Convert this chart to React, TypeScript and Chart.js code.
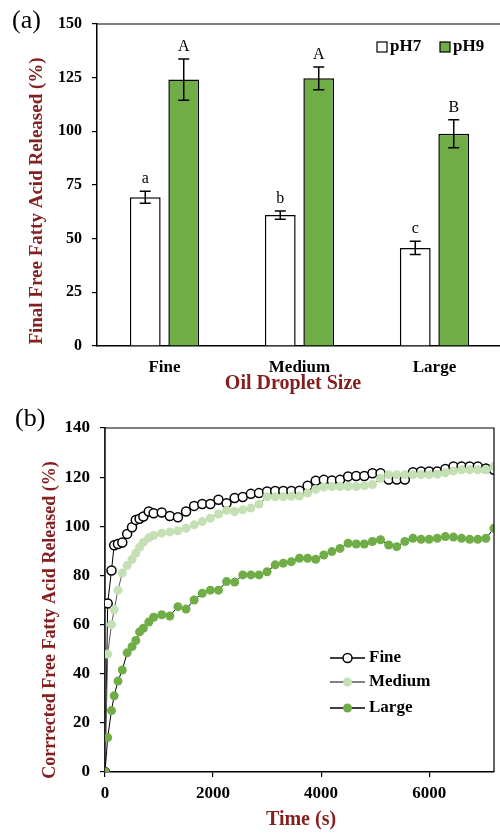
import React, { useEffect, useRef } from 'react';
import { Chart, registerables } from 'chart.js';

Chart.register(...registerables);

// ---------- Panel (a) data ----------
const sizeCategories = ['Fine', 'Medium', 'Large'];
const ph7Values = [69.3, 61.0, 45.7];
const ph7Errors = [2.8, 1.9, 3.1];
const ph9Values = [124.1, 124.7, 98.9];
const ph9Errors = [9.6, 5.3, 6.5];
const ph7Letters = ['a', 'b', 'c'];
const ph9Letters = ['A', 'A', 'B'];
const barTicks = [0, 25, 50, 75, 100, 125, 150];

// ---------- Panel (b) data ----------
const timeSeconds = [
  0, 50, 120, 170, 240, 320, 410, 500, 570, 640, 710, 810, 900,
  1050, 1200, 1350, 1500, 1650, 1800, 1950, 2100, 2250, 2400,
  2550, 2700, 2850, 3000, 3150, 3300, 3450, 3600, 3750, 3900,
  4050, 4200, 4350, 4500, 4650, 4800, 4950, 5100, 5250, 5400,
  5550, 5700, 5850, 6000, 6150, 6300, 6450, 6600, 6750, 6900,
  7050, 7200,
];
const fineValues = [
  0, 68.6, 82, 92.3, 92.8, 93.4, 96.9, 99.6, 102.6, 103.1, 104, 106, 105.3,
  105.6, 104.2, 103.7, 106, 108.3, 109.1, 109.1, 110.8, 109.4, 111.5,
  111.9, 113.2, 113.5, 114.2, 114.4, 114.4, 114.4, 114.5, 116.5, 118.5,
  118.9, 118.6, 118.9, 120.3, 120.5, 120.5, 121.6, 121.6, 119, 119,
  119, 122, 122.3, 122.3, 122.3, 123.3, 124.3, 124.3, 124.3, 124.3,
  123.5, 123,
];
const mediumValues = [
  0, 48, 60, 66, 74, 81, 84, 86.5, 89, 91.5, 93.5, 95.3, 96.3,
  97.2, 97.7, 98.2, 99.2, 100.6, 101.9, 103.3, 105, 106.5, 106,
  106.7, 107.4, 109, 112, 112, 112, 112.2, 112.3, 113.5, 115,
  116, 116.2, 116.2, 116.2, 116.2, 116.5, 117, 119.5, 121, 121,
  121, 121, 121, 121, 121.2, 121.8, 122.5, 123, 123, 123,
  123, 124.3,
];
const largeValues = [
  0, 14, 25, 31, 37, 41.5, 48.5, 51, 53.5, 57, 58.5, 61, 63,
  64, 63.5, 67.3, 66.3, 70, 72.7, 74, 74, 77.5, 77.3,
  80.2, 80.2, 80.2, 81.5, 84.3, 85, 85.6, 87, 87, 86.6,
  88.3, 89.7, 91, 93.1, 92.8, 92.8, 93.8, 94.5, 92.4, 91.7,
  93.8, 95.1, 94.7, 94.7, 95.1, 95.8, 95.6, 95.1, 94.7, 94.7,
  95.1, 99.2,
];
const timeTicks = [0, 2000, 4000, 6000];
const releaseTicks = [0, 20, 40, 60, 80, 100, 120, 140];

const SERIF = "'Liberation Serif', 'Times New Roman', serif";
const TITLE_RED = '#842020';
const GREEN = '#70AD47';
const LIGHT_GREEN = '#C5E0B4';

function drawRotatedTitle(ctx: CanvasRenderingContext2D, text: string, x: number, y: number, font: string) {
  ctx.save();
  ctx.translate(x, y);
  ctx.rotate(-Math.PI / 2);
  ctx.font = font;
  ctx.fillStyle = TITLE_RED;
  ctx.textAlign = 'center';
  ctx.textBaseline = 'middle';
  ctx.fillText(text, 0, 0);
  ctx.restore();
}

export default function App() {
  const refA = useRef<HTMLCanvasElement | null>(null);
  const refB = useRef<HTMLCanvasElement | null>(null);

  useEffect(() => {
    if (!refA.current || !refB.current) return;

    const barDecor = {
      id: 'barDecor',
      afterDraw(chart: any) {
        const ctx = chart.ctx as CanvasRenderingContext2D;
        const ca = chart.chartArea;
        const ys = chart.scales.y;
        ctx.save();
        ctx.strokeStyle = '#000';
        ctx.lineWidth = 1.2;
        ctx.beginPath();
        ctx.moveTo(ca.left, ca.top);
        ctx.lineTo(ca.right, ca.top);
        ctx.lineTo(ca.right, ca.bottom);
        ctx.stroke();

        const groups: [number, number[], number[], string[]][] = [
          [0, ph7Values, ph7Errors, ph7Letters],
          [1, ph9Values, ph9Errors, ph9Letters],
        ];
        groups.forEach(([di, vals, errs, letters]) => {
          const meta = chart.getDatasetMeta(di);
          meta.data.forEach((bar: any, i: number) => {
            const x = bar.x;
            const top = ys.getPixelForValue(vals[i] + errs[i]);
            const bot = ys.getPixelForValue(vals[i] - errs[i]);
            ctx.strokeStyle = '#000';
            ctx.lineWidth = 1.5;
            ctx.beginPath();
            ctx.moveTo(x, top);
            ctx.lineTo(x, bot);
            ctx.moveTo(x - 5.5, top);
            ctx.lineTo(x + 5.5, top);
            ctx.moveTo(x - 5.5, bot);
            ctx.lineTo(x + 5.5, bot);
            ctx.stroke();
            ctx.fillStyle = '#000';
            ctx.font = `16px ${SERIF}`;
            ctx.textAlign = 'center';
            ctx.textBaseline = 'alphabetic';
            ctx.fillText(letters[i], x, top - 8);
          });
        });

        const ds = chart.data.datasets;
        const legendItems = [
          { x: 377, tx: 390 },
          { x: 440, tx: 453 },
        ];
        legendItems.forEach((it, i) => {
          ctx.fillStyle = ds[i].backgroundColor;
          ctx.strokeStyle = '#000';
          ctx.lineWidth = 1.2;
          ctx.fillRect(it.x, 42, 10, 10);
          ctx.strokeRect(it.x, 42, 10, 10);
          ctx.fillStyle = '#000';
          ctx.font = `bold 17px ${SERIF}`;
          ctx.textAlign = 'left';
          ctx.textBaseline = 'middle';
          ctx.fillText(ds[i].label, it.tx, 47);
        });

        drawRotatedTitle(ctx, 'Final Free Fatty Acid Released (%)', 37, 201, `bold 19px ${SERIF}`);
        ctx.font = `bold 20px ${SERIF}`;
        ctx.fillStyle = TITLE_RED;
        ctx.textAlign = 'center';
        ctx.textBaseline = 'middle';
        ctx.fillText('Oil Droplet Size', 293, 384);

        ctx.font = `26px ${SERIF}`;
        ctx.fillStyle = '#000';
        ctx.textAlign = 'left';
        ctx.fillText('(a)', 12, 21);
        ctx.restore();
      },
    };

    const chartA = new Chart(refA.current, {
      type: 'bar',
      data: {
        labels: sizeCategories,
        datasets: [
          {
            label: 'pH7',
            data: ph7Values,
            backgroundColor: '#FFFFFF',
            borderColor: '#000',
            borderWidth: 1.5,
            categoryPercentage: 0.57,
            barPercentage: 0.8,
          },
          {
            label: 'pH9',
            data: ph9Values,
            backgroundColor: GREEN,
            borderColor: '#000',
            borderWidth: 1.5,
            categoryPercentage: 0.57,
            barPercentage: 0.8,
          },
        ],
      },
      options: {
        responsive: false,
        animation: false,
        layout: { padding: { top: 24, right: 3, left: 0, bottom: 0 } },
        plugins: { legend: { display: false }, tooltip: { enabled: false } },
        scales: {
          x: {
            grid: { display: false, drawTicks: false },
            border: { display: true, color: '#000', width: 1.5 },
            ticks: { color: '#000', font: { family: SERIF, size: 17, weight: 'bold' }, padding: 11 },
            afterFit: (s: any) => { s.height = 54; },
          },
          y: {
            min: 0,
            max: 150,
            afterBuildTicks: (s: any) => { s.ticks = barTicks.map((v) => ({ value: v })); },
            grid: { display: true, drawOnChartArea: false, drawTicks: true, tickLength: 5, color: '#000', lineWidth: 1.2 },
            border: { display: true, color: '#000', width: 1.5 },
            ticks: { color: '#000', font: { family: SERIF, size: 16, weight: 'bold' }, padding: 10 },
            afterFit: (s: any) => { s.width = 97; },
          },
        },
      },
      plugins: [barDecor],
    } as any);

    const lineDecor = {
      id: 'lineDecor',
      afterDraw(chart: any) {
        const ctx = chart.ctx as CanvasRenderingContext2D;
        const ca = chart.chartArea;
        ctx.save();
        ctx.strokeStyle = '#000';
        ctx.lineWidth = 1.2;
        ctx.beginPath();
        ctx.moveTo(ca.left, ca.top);
        ctx.lineTo(ca.right, ca.top);
        ctx.lineTo(ca.right, ca.bottom);
        ctx.stroke();

        const ds = chart.data.datasets;
        const rowsY = [268, 292, 318];
        ds.forEach((d: any, i: number) => {
          const y = rowsY[i];
          ctx.strokeStyle = d.borderColor;
          ctx.lineWidth = 1.5;
          ctx.beginPath();
          ctx.moveTo(330, y);
          ctx.lineTo(365, y);
          ctx.stroke();
          ctx.beginPath();
          ctx.arc(347.5, y, 4.5, 0, Math.PI * 2);
          ctx.fillStyle = d.pointBackgroundColor;
          ctx.fill();
          if (d.pointBorderWidth > 0) {
            ctx.strokeStyle = d.pointBorderColor;
            ctx.lineWidth = d.pointBorderWidth;
            ctx.stroke();
          }
          ctx.fillStyle = '#000';
          ctx.font = `bold 17px ${SERIF}`;
          ctx.textAlign = 'left';
          ctx.textBaseline = 'middle';
          ctx.fillText(d.label, 369, y);
        });

        drawRotatedTitle(ctx, 'Corrrected Free Fatty Acid Released (%)', 50, 230, `bold 18px ${SERIF}`);
        ctx.font = `bold 20px ${SERIF}`;
        ctx.fillStyle = TITLE_RED;
        ctx.textAlign = 'center';
        ctx.textBaseline = 'middle';
        ctx.fillText('Time (s)', 301, 430);

        ctx.font = `26px ${SERIF}`;
        ctx.fillStyle = '#000';
        ctx.textAlign = 'left';
        ctx.fillText('(b)', 15, 29);
        ctx.restore();
      },
    };

    const toPoints = (vals: number[]) => timeSeconds.map((t, i) => ({ x: t, y: vals[i] }));

    const chartB = new Chart(refB.current, {
      type: 'line',
      data: {
        datasets: [
          {
            label: 'Fine',
            data: toPoints(fineValues),
            borderColor: '#000',
            borderWidth: 1,
            pointRadius: 4.5,
            pointBackgroundColor: '#FFFFFF',
            pointBorderColor: '#000',
            pointBorderWidth: 1.5,
            tension: 0,
            order: 3,
          },
          {
            label: 'Medium',
            data: toPoints(mediumValues),
            borderColor: '#595959',
            borderWidth: 1,
            pointRadius: 4.5,
            pointBackgroundColor: LIGHT_GREEN,
            pointBorderColor: LIGHT_GREEN,
            pointBorderWidth: 0,
            tension: 0,
            order: 2,
          },
          {
            label: 'Large',
            data: toPoints(largeValues),
            borderColor: '#000',
            borderWidth: 1,
            pointRadius: 4.5,
            pointBackgroundColor: GREEN,
            pointBorderColor: GREEN,
            pointBorderWidth: 0,
            tension: 0,
            order: 1,
          },
        ],
      },
      options: {
        responsive: false,
        animation: false,
        layout: { padding: { top: 38, right: 2, left: 0, bottom: 0 } },
        plugins: { legend: { display: false }, tooltip: { enabled: false } },
        scales: {
          x: {
            type: 'linear',
            min: 0,
            max: 7200,
            afterBuildTicks: (s: any) => { s.ticks = timeTicks.map((v) => ({ value: v })); },
            grid: { display: true, drawOnChartArea: false, drawTicks: true, tickLength: 5, color: '#000', lineWidth: 1.2 },
            border: { display: true, color: '#000', width: 1.5 },
            ticks: {
              color: '#000',
              font: { family: SERIF, size: 17, weight: 'bold' },
              padding: 6,
              maxRotation: 0,
              callback: (v: any) => String(v),
            },
            afterFit: (s: any) => { s.height = 62; },
          },
          y: {
            min: 0,
            max: 140,
            afterBuildTicks: (s: any) => { s.ticks = releaseTicks.map((v) => ({ value: v })); },
            grid: { display: true, drawOnChartArea: false, drawTicks: true, tickLength: 5, color: '#000', lineWidth: 1.2 },
            border: { display: true, color: '#222', width: 1.8 },
            ticks: {
              color: '#000',
              font: { family: SERIF, size: 17, weight: 'bold' },
              padding: 10,
              callback: (v: any) => String(v),
            },
            afterFit: (s: any) => { s.width = 105; },
          },
        },
      },
      plugins: [lineDecor],
    } as any);

    return () => {
      chartA.destroy();
      chartB.destroy();
    };
  }, []);

  return (
    <div
      style={{
        position: 'absolute',
        left: 0,
        top: 0,
        width: 500,
        height: 834,
        overflow: 'hidden',
        background: '#fff',
      }}
    >
      <canvas
        ref={refA}
        width={505}
        height={400}
        style={{ position: 'absolute', left: 0, top: 0, width: 505, height: 400, display: 'block' }}
      />
      <canvas
        ref={refB}
        width={500}
        height={444}
        style={{ position: 'absolute', left: 0, top: 390, width: 500, height: 444, display: 'block' }}
      />
    </div>
  );
}
